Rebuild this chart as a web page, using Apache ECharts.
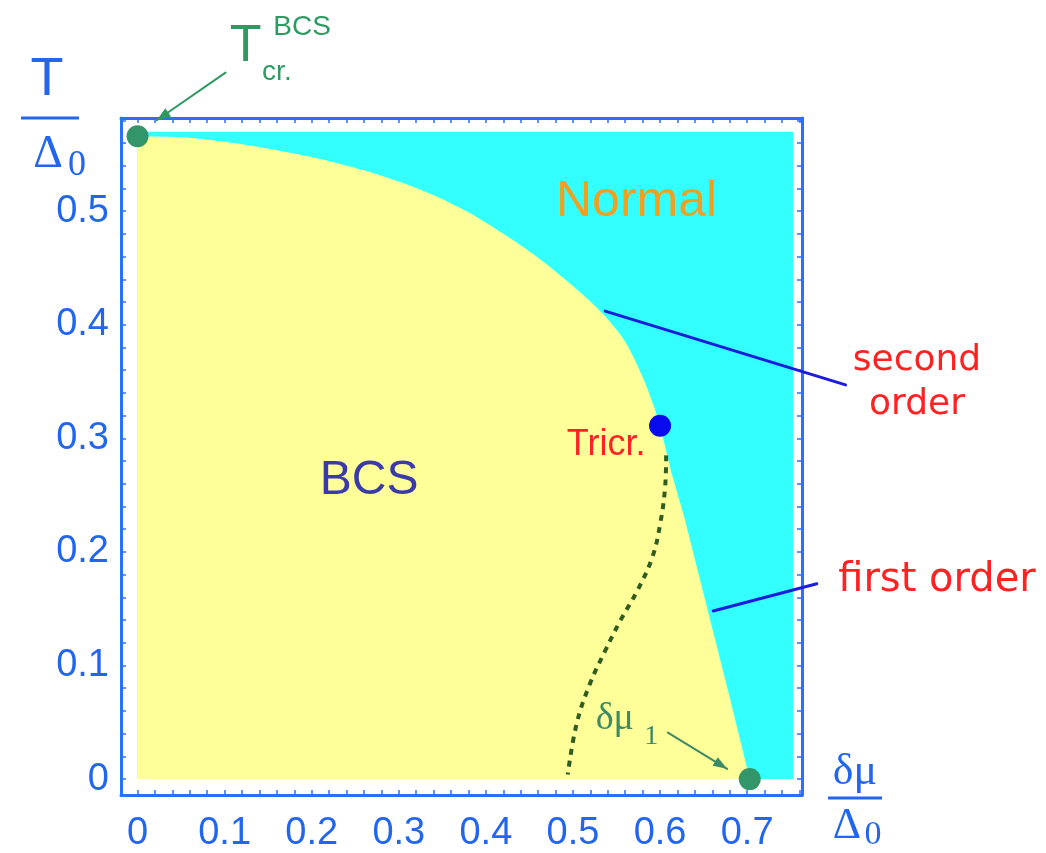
<!DOCTYPE html>
<html>
<head>
<meta charset="utf-8">
<script src="https://cdn.jsdelivr.net/npm/echarts@6/dist/echarts.min.js"></script>
<style>
  html, body { margin: 0; padding: 0; background: #ffffff; }
  #chart { width: 1046px; height: 853px; }
</style>
</head>
<body>
<div id="chart"></div>
<script>
// Phase diagram of the BCS / normal state in the (δμ/Δ0, T/Δ0) plane.

// Second-order BCS–normal line, from T_cr^BCS down to the tricritical point
const secondOrderMu = [0, 0.05, 0.10, 0.15, 0.21, 0.26, 0.30, 0.34, 0.38, 0.42, 0.46, 0.50, 0.535, 0.56, 0.58, 0.592, 0.600];
const secondOrderT  = [0.566, 0.565, 0.561, 0.555, 0.546, 0.536, 0.526, 0.514, 0.499, 0.480, 0.459, 0.434, 0.409, 0.385, 0.354, 0.330, 0.311];

// First-order line, from the tricritical point down to δμ1
const firstOrderMu = [0.600, 0.613, 0.628, 0.653, 0.679, 0.703];
const firstOrderT  = [0.311, 0.270, 0.230, 0.154, 0.075, 0.000];

// Dotted line inside the BCS region
const dashedMu = [0.607, 0.606, 0.600, 0.591, 0.574, 0.554, 0.537, 0.519, 0.504, 0.494];
const dashedT  = [0.285, 0.259, 0.224, 0.195, 0.166, 0.139, 0.113, 0.083, 0.048, 0.004];

// Extent of the computed (normal) domain
const normalMu = [0, 0.753];
const normalT  = [0, 0.570];

// Special points
const tcBCS       = [0, 0.566];
const tricritical = [0.600, 0.311];
const deltaMu1    = [0.703, 0];

// Tick labels
const xTickLabels = [0, 0.1, 0.2, 0.3, 0.4, 0.5, 0.6, 0.7];
const yTickLabels = [0, 0.1, 0.2, 0.3, 0.4, 0.5];

const zip = (xs, ys) => xs.map((x, i) => [x, ys[i]]);

const frameColor = '#2a70ff';
const tickTextColor = '#2266ee';
const bcsFill = '#ffff99';
const normalFill = '#33ffff';

function steps(from, to, step) {
  const out = [];
  for (let i = Math.round(from / step); i * step <= to + 1e-9; i++) {
    out.push(Math.round(i * step * 1000) / 1000);
  }
  return out;
}
const xMinor = steps(0, 0.76, 0.02);
const yMinor = steps(0, 0.58, 0.02);

// Normal-state rectangle
const normalPoly = [
  [normalMu[0], normalT[0]], [normalMu[0], normalT[1]],
  [normalMu[1], normalT[1]], [normalMu[1], normalT[0]]
];

// The straight first-order part is drawn from the last-but-one sample of the
// second-order line onward so the two yellow fills overlap without a seam.
const firstOrderFill = zip(secondOrderMu, secondOrderT).slice(-2, -1)
  .concat(zip(firstOrderMu, firstOrderT));

// Annotation pointers (in data units)
const pointers = [
  { from: [0.537, 0.412], to: [0.813, 0.347], color: '#1c1cdc', width: 3, arrow: false },
  { from: [0.661, 0.148], to: [0.780, 0.172], color: '#1c1cdc', width: 3, arrow: false },
  { from: [0.101, 0.622], to: [0.022, 0.580], color: '#2e9a62', width: 2, arrow: true },
  { from: [0.609, 0.041], to: [0.677, 0.009], color: '#3d8a66', width: 2, arrow: true }
];

const SANS = '"Liberation Sans", Arial, sans-serif';
const SERIF = '"Liberation Serif", "Times New Roman", serif';
const HAND = '"DejaVu Sans", sans-serif';

const labels = [
  { text: 'Normal', at: [0.573, 0.508], font: '50px ' + SANS, fill: '#f0a020' },
  { text: 'BCS', at: [0.266, 0.263], font: '48px ' + SANS, fill: '#3a3aaa' },
  { text: 'Tricr.', at: [0.538, 0.294], font: '36px ' + SANS, fill: '#ff2222' },
  { text: 'second', at: [0.895, 0.368], font: '36px ' + HAND, fill: '#ff2222' },
  { text: 'order', at: [0.895, 0.330], font: '36px ' + HAND, fill: '#ff2222' },
  { text: 'first order', at: [0.918, 0.175], font: '40px ' + HAND, fill: '#ff2222' },
  { text: 'δμ', at: [0.548, 0.053], font: '38px ' + SERIF, fill: '#3d8a66' },
  { text: '1', at: [0.590, 0.037], font: '28px ' + SERIF, fill: '#3d8a66' },
  { text: 'T', at: [0.124, 0.645], font: '52px ' + SANS, fill: '#2e9a62' },
  { text: 'BCS', at: [0.189, 0.662], font: '28px ' + SANS, fill: '#2e9a62' },
  { text: 'cr.', at: [0.160, 0.622], font: '28px ' + SANS, fill: '#2e9a62' }
];

function regionRenderer(points, fill) {
  return function (params, api) {
    return {
      type: 'polygon',
      shape: { points: points.map(p => api.coord(p)) },
      style: { fill: fill }
    };
  };
}

function pointerRenderer(params, api) {
  const p = pointers[params.dataIndex];
  const a = api.coord(p.from);
  const b = api.coord(p.to);
  const children = [{
    type: 'line',
    shape: { x1: a[0], y1: a[1], x2: b[0], y2: b[1] },
    style: { stroke: p.color, lineWidth: p.width, lineCap: 'round' }
  }];
  if (p.arrow) {
    const dx = b[0] - a[0], dy = b[1] - a[1];
    const len = Math.sqrt(dx * dx + dy * dy);
    const ux = dx / len, uy = dy / len;
    const hl = 14, hw = 5;
    const bx = b[0] - ux * hl, by = b[1] - uy * hl;
    children.push({
      type: 'polygon',
      shape: { points: [b, [bx - uy * hw, by + ux * hw], [bx + uy * hw, by - ux * hw]] },
      style: { fill: p.color }
    });
  }
  return { type: 'group', children: children };
}

function labelRenderer(params, api) {
  const l = labels[params.dataIndex];
  const p = api.coord(l.at);
  return {
    type: 'text',
    x: p[0], y: p[1],
    style: { text: l.text, font: l.font, fill: l.fill, align: 'center', verticalAlign: 'middle' }
  };
}

function xAxis(position, withLabels) {
  return {
    type: 'value', position: position, min: -0.019, max: 0.763,
    axisLine: { show: true, onZero: false, lineStyle: { color: frameColor, width: 3 } },
    axisTick: { show: true, inside: true, length: 5, customValues: xMinor, lineStyle: { color: frameColor, width: 1.5 } },
    axisLabel: withLabels ? {
      show: true, customValues: xTickLabels, margin: 20,
      color: tickTextColor, fontSize: 38, fontFamily: SANS
    } : { show: false },
    splitLine: { show: false }
  };
}
function yAxis(position, withLabels) {
  return {
    type: 'value', position: position, min: -0.014, max: 0.582,
    axisLine: { show: true, onZero: false, lineStyle: { color: frameColor, width: 3 } },
    axisTick: { show: true, inside: true, length: 5, customValues: yMinor, lineStyle: { color: frameColor, width: 1.5 } },
    axisLabel: withLabels ? {
      show: true, customValues: yTickLabels, margin: 12,
      color: tickTextColor, fontSize: 38, fontFamily: SANS
    } : { show: false },
    splitLine: { show: false }
  };
}

const chart = echarts.init(document.getElementById('chart'), null, { renderer: 'canvas' });

chart.setOption({
  animation: false,
  backgroundColor: '#ffffff',
  grid: { left: 121, top: 118, width: 681, height: 680 },
  xAxis: [xAxis('bottom', true), xAxis('top', false)],
  yAxis: [yAxis('left', true), yAxis('right', false)],
  graphic: [
    // T / Δ0 axis title
    { type: 'text', x: 47, y: 80, style: { text: 'T', font: '54px ' + SANS, fill: tickTextColor, align: 'center', verticalAlign: 'middle' } },
    { type: 'line', shape: { x1: 21, y1: 118, x2: 79, y2: 118 }, style: { stroke: tickTextColor, lineWidth: 3 } },
    { type: 'text', x: 48, y: 155, style: { text: 'Δ', font: '46px ' + SERIF, fill: tickTextColor, align: 'center', verticalAlign: 'middle' } },
    { type: 'text', x: 77, y: 166, style: { text: '0', font: '36px ' + SERIF, fill: tickTextColor, align: 'center', verticalAlign: 'middle' } },
    // δμ / Δ0 axis title
    { type: 'text', x: 855, y: 772, style: { text: 'δμ', font: '44px ' + SERIF, fill: tickTextColor, align: 'center', verticalAlign: 'middle' } },
    { type: 'line', shape: { x1: 828, y1: 798, x2: 882, y2: 798 }, style: { stroke: tickTextColor, lineWidth: 3 } },
    { type: 'text', x: 847, y: 826, style: { text: 'Δ', font: '44px ' + SERIF, fill: tickTextColor, align: 'center', verticalAlign: 'middle' } },
    { type: 'text', x: 873, y: 835, style: { text: '0', font: '34px ' + SERIF, fill: tickTextColor, align: 'center', verticalAlign: 'middle' } }
  ],
  series: [
    {
      name: 'normal', type: 'custom', coordinateSystem: 'cartesian2d', silent: true, z: 1,
      renderItem: regionRenderer(normalPoly, normalFill), data: [normalPoly[0]]
    },
    {
      name: 'second order', type: 'line', data: zip(secondOrderMu, secondOrderT),
      smooth: 0.3, symbol: 'none', silent: true, z: 2,
      lineStyle: { width: 0, opacity: 0 },
      areaStyle: { color: bcsFill, opacity: 1, origin: 0 }
    },
    {
      name: 'first order', type: 'line', data: firstOrderFill,
      symbol: 'none', silent: true, z: 2,
      lineStyle: { width: 0, opacity: 0 },
      areaStyle: { color: bcsFill, opacity: 1, origin: 0 }
    },
    {
      name: 'dotted', type: 'line', data: zip(dashedMu, dashedT), smooth: 0.4, symbol: 'none', z: 3,
      lineStyle: { color: '#2f5c1f', width: 4, type: [6, 6] }
    },
    {
      name: 'pointers', type: 'custom', coordinateSystem: 'cartesian2d', silent: true, z: 4, clip: false,
      renderItem: pointerRenderer, data: pointers.map(p => p.from)
    },
    {
      name: 'points', type: 'scatter', symbolSize: 22, z: 5, clip: false,
      itemStyle: { opacity: 1 },
      data: [
        { value: tcBCS, itemStyle: { color: '#33966a', opacity: 1 } },
        { value: tricritical, itemStyle: { color: '#0a0aee', opacity: 1 } },
        { value: deltaMu1, itemStyle: { color: '#33966a', opacity: 1 } }
      ]
    },
    {
      name: 'labels', type: 'custom', coordinateSystem: 'cartesian2d', silent: true, z: 6, clip: false,
      renderItem: labelRenderer, data: labels.map(l => l.at)
    }
  ]
});
</script>
</body>
</html>
